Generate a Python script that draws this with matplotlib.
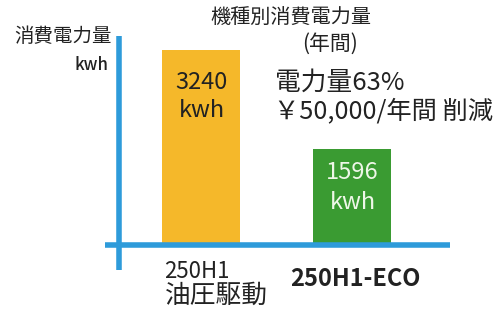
import matplotlib
matplotlib.use('Agg')
import matplotlib.pyplot as plt

plt.rcParams['font.family'] = ['Noto Sans CJK JP', 'DejaVu Sans']

models = ['250H1', '250H1-ECO']
model_sub = ['油圧駆動', '']
power_kwh = [3240, 1596]
bar_colors = ['#F5B82A', '#3A9B32']
label_colors = ['#222222', '#EEF7E8']

fig = plt.figure(figsize=(5.01, 3.09), dpi=100)
ax = fig.add_axes([119 / 501, (309 - 245) / 309, 331 / 501, 209 / 309])

YMAX = 3473
px = YMAX / 209  # data units per pixel

x = range(len(power_kwh))
bars = ax.bar(x, power_kwh, width=0.517, color=bar_colors, zorder=1)
ax.set_xlim(-0.546, 1.646)
ax.set_ylim(0, YMAX)
ax.axis('off')

# axis lines (they overshoot where they cross)
blue = '#2E9BDA'
ax.plot([-14 / 331, 1], [0, 0], transform=ax.transAxes, color=blue,
        lw=4, clip_on=False, solid_capstyle='butt', zorder=3)
ax.plot([0, 0], [-25 / 209, 1], transform=ax.transAxes, color=blue,
        lw=4, clip_on=False, solid_capstyle='butt', zorder=3)

# value labels inside bars
offsets = [(32, 60), (24, 54)]
for i, (b, v) in enumerate(zip(bars, power_kwh)):
    top = b.get_height()
    o1, o2 = offsets[i]
    ax.text(i, top - o1 * px, str(v), ha='center', va='center',
            fontsize=17, color=label_colors[i])
    ax.text(i, top - o2 * px, 'kwh', ha='center', va='center',
            fontsize=17, color=label_colors[i])

# category labels
ax.text(-0.245, -27 * px, models[0], ha='left', va='center', fontsize=16,
        color='#222222')
ax.text(-0.245, -51 * px, model_sub[0], ha='left', va='center', fontsize=18.5,
        color='#222222')
ax.text(1.02, -34 * px, models[1], ha='center', va='center',
        fontsize=17, fontweight='bold', color='#222222')

# titles and notes
fig.text(63 / 501, 1 - 37 / 309, '消費電力量', ha='center', va='center',
         fontsize=14, color='#222222')
fig.text(108 / 501, 1 - 65 / 309, 'kwh', ha='right', va='center',
         fontsize=12, fontweight='medium', color='#222222')
fig.text(291 / 501, 1 - 17 / 309, '機種別消費電力量', ha='center', va='center',
         fontsize=14.5, color='#222222')
fig.text(330 / 501, 1 - 44 / 309, '(年間)', ha='center', va='center',
         fontsize=15, color='#222222')
fig.text(275 / 501, 1 - 83 / 309, '電力量63%', ha='left', va='center',
         fontsize=18.5, color='#222222')
fig.text(274 / 501, 1 - 111 / 309, '￥50,000/年間 削減', ha='left', va='center',
         fontsize=18.2, color='#222222')

fig.savefig('out.png', dpi=100)
